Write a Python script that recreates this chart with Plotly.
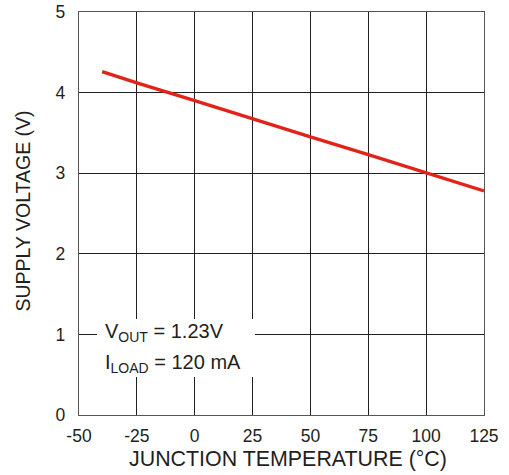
import plotly.graph_objects as go

# Data
temperature_c = [-40, -25, 0, 25, 50, 75, 100, 125]
supply_voltage_v = [4.26, 4.12, 3.90, 3.67, 3.45, 3.23, 3.00, 2.78]

x_ticks = [-50, -25, 0, 25, 50, 75, 100, 125]
y_ticks = [0, 1, 2, 3, 4, 5]

x_title = "JUNCTION TEMPERATURE (°C)"
y_title = "SUPPLY VOLTAGE (V)"
note_line1 = "V<sub>OUT</sub> = 1.23V"
note_line2 = "I<sub>LOAD</sub> = 120 mA"

FONT = "Liberation Sans, Arial, Helvetica, sans-serif"
TXT = "#231f20"
GRID = "#231f20"

fig = go.Figure()
fig.add_trace(go.Scatter(
    x=temperature_c, y=supply_voltage_v, mode="lines",
    line=dict(color="#e2231a", width=3.4), showlegend=False, hoverinfo="skip",
))

fig.update_layout(
    width=509, height=475,
    margin=dict(l=79, r=25, t=12, b=60),
    paper_bgcolor="white", plot_bgcolor="white",
    font=dict(family=FONT, color=TXT, size=17),
    showlegend=False,
)
fig.update_xaxes(
    range=[-50, 125], tickvals=x_ticks, ticktext=[str(v) for v in x_ticks],
    showgrid=True, gridcolor=GRID, gridwidth=1, zeroline=False,
    showline=True, linecolor="#555555", linewidth=1.3, mirror=True,
    ticks="outside", ticklen=5, tickcolor="rgba(0,0,0,0)",
    tickfont=dict(size=17.5, family=FONT, color=TXT),
    automargin=False,
)
fig.update_yaxes(
    range=[0, 5], tickvals=y_ticks,
    showgrid=True, gridcolor=GRID, gridwidth=1, zeroline=False,
    showline=True, linecolor="#555555", linewidth=1.3, mirror=True,
    ticks="outside", ticklen=9, tickcolor="rgba(0,0,0,0)",
    tickfont=dict(size=17.5, family=FONT, color=TXT),
    automargin=False,
)

# Axis titles
fig.add_annotation(x=0.517, y=-0.109, xref="paper", yref="paper", text=x_title,
                   showarrow=False, xanchor="center", yanchor="middle",
                   font=dict(size=21.4, family=FONT, color=TXT))
fig.add_annotation(x=-0.138, y=0.505, xref="paper", yref="paper", text=y_title,
                   showarrow=False, xanchor="center", yanchor="middle", textangle=-90,
                   font=dict(size=19.5, family=FONT, color=TXT))

# White box behind the note, hiding the grid lines
fig.add_shape(type="rect", xref="x", yref="y", x0=-42.2, x1=26, y0=0.47, y1=1.19,
              fillcolor="white", line=dict(width=0), layer="above")
fig.add_annotation(x=-39.8, y=1.02, xref="x", yref="y", text=note_line1,
                   showarrow=False, xanchor="left", yanchor="middle",
                   font=dict(size=20, family=FONT, color=TXT))
fig.add_annotation(x=-39.8, y=0.635, xref="x", yref="y", text=note_line2,
                   showarrow=False, xanchor="left", yanchor="middle",
                   font=dict(size=20, family=FONT, color=TXT))

fig.write_html("out.html", config={"displayModeBar": False},
               post_script="document.body.style.margin='0';document.body.style.overflow='hidden';")
